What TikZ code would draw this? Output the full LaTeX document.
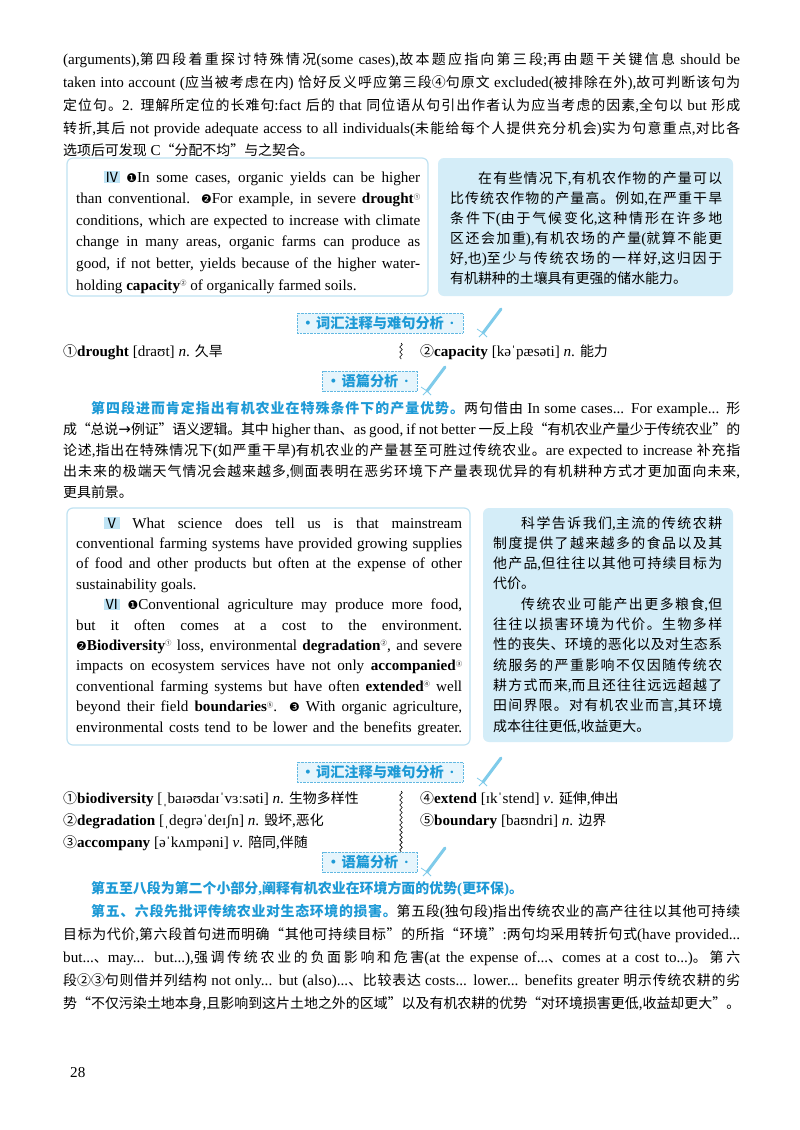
\documentclass[tikz,border=0pt]{standalone}
\usepackage{fontspec}
\usetikzlibrary{decorations.pathmorphing}
\setmainfont{Liberation Serif}
\newfontfamily\lat{Liberation Serif}
\newfontfamily\cjk[Scale=0.92]{Noto Sans CJK SC}
\newfontfamily\dv{DejaVu Sans}
\newXeTeXintercharclass\mycls
\makeatletter
\count@="4E00 \loop \XeTeXcharclass\count@=\mycls \advance\count@ 1 \ifnum\count@<"A000 \repeat
\count@="3000 \loop \XeTeXcharclass\count@=\mycls \advance\count@ 1 \ifnum\count@<"3040 \repeat
\count@="FF01 \loop \XeTeXcharclass\count@=\mycls \advance\count@ 1 \ifnum\count@<"FF60 \repeat
\XeTeXcharclass"201C=\mycls \XeTeXcharclass"201D=\mycls
\makeatother
\XeTeXinterchartokenstate=1
\XeTeXinterchartoks 0 \mycls = {\cjk}
\XeTeXinterchartoks 4095 \mycls = {\cjk}
\XeTeXinterchartoks \mycls 0 = {\lat}
\XeTeXinterchartoks \mycls 4095 = {\lat}
\XeTeXinterchartoks \mycls \mycls = {\hskip 0pt plus 3pt minus 0.3pt\relax}
\hbadness=10000 \hfuzz=50pt
\definecolor{bl}{HTML}{1E9AD6}
\definecolor{boxbd}{HTML}{BFE2F2}
\definecolor{boxfill}{HTML}{D4EDF8}
\definecolor{hl}{HTML}{BFE4F5}
\definecolor{badgefill}{HTML}{E6F5FC}
\definecolor{pen}{HTML}{7FCBEA}
\newcommand\cn[1]{{\cjk #1}}
\newcommand\su[1]{\raisebox{4.5pt}{\cjk\fontsize{7}{7}\selectfont #1}}
\newcommand\rn[1]{{\fboxsep=0.8pt\colorbox{hl}{\cjk #1}}}
\newcommand\dn[1]{{\dv\fontsize{12}{12}\selectfont #1}}
\newcommand\hd[1]{{\color{bl}\bfseries #1}}
\newcommand\bdot{\hbox to 16bp{\hss\textbf{·}\hss}}
\tikzset{
 ln/.style={anchor=base west, inner sep=0pt},
 txt/.style={font=\fontsize{15.2}{16}\selectfont},
 badge/.style={draw=bl!70, densely dotted, fill=badgefill, text=bl, font=\cjk\bfseries\fontsize{15.5}{16}\selectfont, inner xsep=3pt, inner ysep=3pt},
 penline/.style={pen, line width=3pt, line cap=round},
}
\newcommand\J[4]{\node[ln] (#1) at (#2) {\hbox to #3bp{#4}};}
\newcommand\R[3]{\node[ln] (#1) at (#2) {#3};}
\newcommand\penicon[2]{%
 \draw[penline] (#1+2,#2+10) -- (#1+20,#2-14);
 \draw[pen, line width=0.8pt] (#1-4,#2+6) -- (#1+2,#2+10) (#1-2,#2+14)--(#1+2,#2+10) (#1+6,#2+14)--(#1+2,#2+10);}
\begin{document}
\begin{tikzpicture}[x=1bp,y=-1bp,txt]
\useasboundingbox[fill=white] (0,0) rectangle (800,1130);
\J{t1}{63,64}{677}{(arguments),第四段着重探讨特殊情况(some cases),故本题应指向第三段;再由题干关键信息 should be}
\J{t2}{63,87}{677}{taken into account (应当被考虑在内) 恰好反义呼应第三段\cn{④}句原文 excluded(被排除在外),故可判断该句为}
\J{t3}{63,110}{677}{定位句。2. 理解所定位的长难句:fact 后的 that 同位语从句引出作者认为应当考虑的因素,全句以 but 形成}
\J{t4}{63,133}{677}{转折,其后 not provide adequate access to all individuals(未能给每个人提供充分机会)实为句意重点,对比各}
\R{t5}{63,155}{选项后可发现 C“分配不均”与之契合。}
\draw[boxbd, line width=1.2pt, rounded corners=6pt] (67,158) rectangle (428,296);
\fill[boxfill, rounded corners=6pt] (438,158) rectangle (733,296);
\J{a1}{104,182}{316}{\rn{Ⅳ} \dn{❶}In some cases, organic yields can be higher}
\J{a2}{76,203.6}{344}{than conventional. \dn{❷}For example, in severe \textbf{drought}\su{①}}
\J{a3}{76,225.2}{344}{conditions, which are expected to increase with climate}
\J{a4}{76,246.8}{344}{change in many areas, organic farms can produce as}
\J{a5}{76,268.4}{344}{good, if not better, yields because of the higher water-}
\R{a6}{76,290}{holding \textbf{capacity}\su{②} of organically farmed soils.}
\J{b1}{478,183}{244}{在有些情况下,有机农作物的产量可以}
\J{b2}{450,203}{272}{比传统农作物的产量高。例如,在严重干旱}
\J{b3}{450,223}{272}{条件下(由于气候变化,这种情形在许多地}
\J{b4}{450,243}{272}{区还会加重),有机农场的产量(就算不能更}
\J{b5}{450,263}{272}{好,也)至少与传统农场的一样好,这归因于}
\R{b6}{450,283}{有机耕种的土壤具有更强的储水能力。}
\node[badge] (g1) at (380,323) {\bdot 词汇注释与难句分析\bdot};
\penicon{481}{323}
\R{v1}{63,356}{\cn{①}\textbf{drought} [draʊt] \textit{n}. 久旱}
\draw[decorate, decoration={snake, amplitude=1.3pt, segment length=5pt}, line width=0.6pt] (401,343) -- (401,359);
\R{v2}{420,356}{\cn{②}\textbf{capacity} [kəˈpæsəti] \textit{n}. 能力}
\node[badge] (g2) at (370,381) {\bdot 语篇分析\bdot};
\penicon{425}{381}
\J{p1}{91,413}{649}{\hd{第四段进而肯定指出有机农业在特殊条件下的产量优势。}两句借由 In some cases... For example... 形}
\J{p2}{63,434}{677}{成“总说{\dv →}例证”语义逻辑。其中 higher than、as good, if not better 一反上段“有机农业产量少于传统农业”的}
\J{p3}{63,455}{677}{论述,指出在特殊情况下(如严重干旱)有机农业的产量甚至可胜过传统农业。are expected to increase 补充指}
\J{p4}{63,476}{677}{出未来的极端天气情况会越来越多,侧面表明在恶劣环境下产量表现优异的有机耕种方式才更加面向未来,}
\R{p5}{63,497}{更具前景。}
\draw[boxbd, line width=1.2pt, rounded corners=6pt] (67,508) rectangle (470,745);
\fill[boxfill, rounded corners=6pt] (483,508) rectangle (733,742);
\J{c1}{104,528}{358}{\rn{Ⅴ} What science does tell us is that mainstream}
\J{c2}{76,548.4}{386}{conventional farming systems have provided growing supplies}
\J{c3}{76,568.8}{386}{of food and other products but often at the expense of other}
\R{c4}{76,589.2}{sustainability goals.}
\J{c5}{104,609.6}{358}{\rn{Ⅵ} \dn{❶}Conventional agriculture may produce more food,}
\J{c6}{76,630}{386}{but it often comes at a cost to the environment.}
\J{c7}{76,650.4}{386}{\dn{❷}\textbf{Biodiversity}\su{①} loss, environmental \textbf{degradation}\su{②}, and severe}
\J{c8}{76,670.8}{386}{impacts on ecosystem services have not only \textbf{accompanied}\su{③}}
\J{c9}{76,691.2}{386}{conventional farming systems but have often \textbf{extended}\su{④} well}
\J{c10}{76,711.6}{386}{beyond their field \textbf{boundaries}\su{⑤}. \dn{❸} With organic agriculture,}
\J{c11}{76,732}{386}{environmental costs tend to be lower and the benefits greater.}
\J{d1}{521,528}{201}{科学告诉我们,主流的传统农耕}
\J{d2}{493,548.3}{229}{制度提供了越来越多的食品以及其}
\J{d3}{493,568.6}{229}{他产品,但往往以其他可持续目标为}
\R{d4}{493,588.9}{代价。}
\J{d5}{521,609.2}{201}{传统农业可能产出更多粮食,但}
\J{d6}{493,629.5}{229}{往往以损害环境为代价。生物多样}
\J{d7}{493,649.8}{229}{性的丧失、环境的恶化以及对生态系}
\J{d8}{493,670.1}{229}{统服务的严重影响不仅因随传统农}
\J{d9}{493,690.4}{229}{耕方式而来,而且还往往远远超越了}
\J{d10}{493,710.7}{229}{田间界限。对有机农业而言,其环境}
\R{d11}{493,731}{成本往往更低,收益更大。}
\node[badge] (g3) at (380,772) {\bdot 词汇注释与难句分析\bdot};
\penicon{481}{772}
\R{w1}{63,803}{\cn{①}\textbf{biodiversity} [ˌbaɪəʊdaɪˈvɜːsəti] \textit{n}. 生物多样性}
\R{w2}{63,825}{\cn{②}\textbf{degradation} [ˌdeɡrəˈdeɪʃn] \textit{n}. 毁坏,恶化}
\R{w3}{63,847}{\cn{③}\textbf{accompany} [əˈkʌmpəni] \textit{v}. 陪同,伴随}
\R{w4}{420,803}{\cn{④}\textbf{extend} [ɪkˈstend] \textit{v}. 延伸,伸出}
\R{w5}{420,825}{\cn{⑤}\textbf{boundary} [baʊndri] \textit{n}. 边界}
\draw[decorate, decoration={snake, amplitude=1.3pt, segment length=5pt}, line width=0.6pt] (401,791) -- (401,852);
\node[badge] (g4) at (370,862) {\bdot 语篇分析\bdot};
\penicon{425}{862}
\R{e1}{91,893}{\hd{第五至八段为第二个小部分,阐释有机农业在环境方面的优势(更环保)。}}
\J{e2}{91,916}{649}{\hd{第五、六段先批评传统农业对生态环境的损害。}第五段(独句段)指出传统农业的高产往往以其他可持续}
\J{e3}{63,939}{677}{目标为代价,第六段首句进而明确“其他可持续目标”的所指“环境”:两句均采用转折句式(have provided...}
\J{e4}{63,962}{677}{but...、may... but...),强调传统农业的负面影响和危害(at the expense of...、comes at a cost to...)。第六}
\J{e5}{63,985}{677}{段\cn{②③}句则借并列结构 not only... but (also)...、比较表达 costs... lower... benefits greater 明示传统农耕的劣}
\J{e6}{63,1008}{677}{势“不仅污染土地本身,且影响到这片土地之外的区域”以及有机农耕的优势“对环境损害更低,收益却更大”。}
\R{pg}{70,1077}{28}
\end{tikzpicture}
\end{document}
